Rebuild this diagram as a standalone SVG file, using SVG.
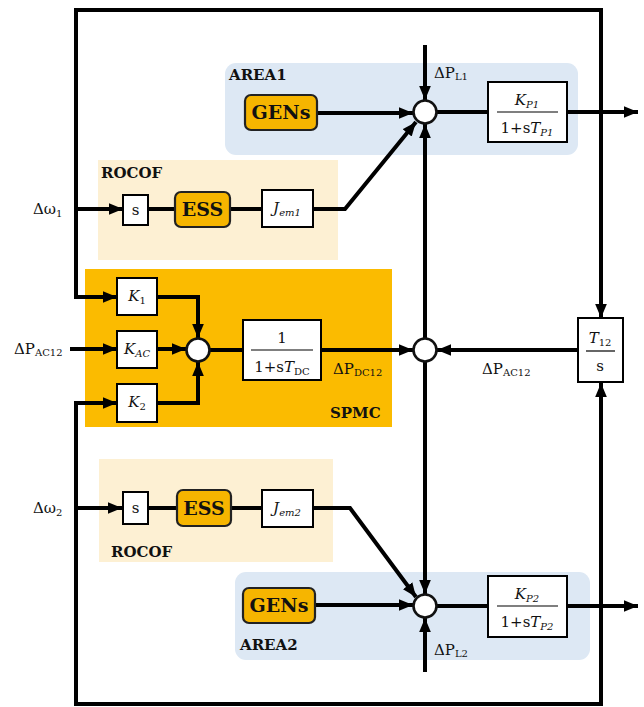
<svg xmlns="http://www.w3.org/2000/svg" width="644" height="707" viewBox="0 0 644 707">
<defs>
<marker id="ah" viewBox="0 0 12 10" refX="12" refY="5" markerWidth="14" markerHeight="12" markerUnits="userSpaceOnUse" orient="auto"><path d="M0,0 L12,5 L0,10 z" fill="#000"/></marker>
</defs>
<style>
.w{stroke:#000;stroke-width:4;fill:none}
.a{marker-end:url(#ah)}
.box{fill:#fff;stroke:#000;stroke-width:2}
.ob{fill:#f6b500;stroke:#222;stroke-width:2.2}
.sum{fill:#fff;stroke:#111;stroke-width:2.6}
.lb{font-weight:bold;font-size:15px}
.big{font-weight:bold;font-size:19px}
.it{font-style:italic}
.sub{font-size:10px}
.t{font-size:15px}
</style>
<rect x="0" y="0" width="644" height="707" fill="#fff"/>
<g font-family="'DejaVu Serif', 'Liberation Serif', serif" fill="#111">
<g id="panels">
<rect id="area1-panel" x="225" y="63" width="353" height="92" rx="11" fill="#dde8f4"/>
<rect id="rocof1-panel" x="98" y="160" width="240" height="100" fill="#fdf0d3"/>
<rect id="spmc-panel" x="85" y="269" width="307" height="158" fill="#fbbb00"/>
<rect id="rocof2-panel" x="99" y="459" width="234" height="103" fill="#fdf0d3"/>
<rect id="area2-panel" x="235" y="572" width="355" height="88" rx="11" fill="#dde8f4"/>
<text x="229" y="80" class="lb">AREA1</text>
<text x="101" y="178" class="lb">ROCOF</text>
<text x="330" y="418" class="lb">SPMC</text>
<text x="111" y="557" class="lb">ROCOF</text>
<text x="240" y="650" class="lb">AREA2</text>
</g>
<g id="connectors">
<path class="w" d="M76,299 V10 H601 V317"/>
<path class="w a" d="M601,316 V318"/>
<path class="w a" d="M74,297 H117"/>
<path class="w a" d="M76,209 H123"/>
<path class="w" d="M148,209 H175 M230,209 H262"/>
<path class="w a" d="M313,209 H345 L416,122"/>
<path class="w a" d="M317,113 H413"/>
<path class="w a" d="M425,45 V100"/>
<path class="w" d="M437,112 H488"/>
<path class="w a" d="M567,112 H638"/>
<path class="w" d="M76,401 V704 H601 V384"/>
<path class="w a" d="M601,386 V383"/>
<path class="w a" d="M74,403 H117"/>
<path class="w a" d="M76,508 H122"/>
<path class="w a" d="M70,349 H117"/>
<path class="w a" d="M157,297 H198 V338"/>
<path class="w a" d="M157,349 H186"/>
<path class="w a" d="M157,403 H198 V362"/>
<path class="w" d="M210,350 H243"/>
<path class="w a" d="M321,350 H413"/>
<path class="w a" d="M577,350 H437"/>
<path class="w a" d="M425,338 V124"/>
<path class="w a" d="M425,362 V594"/>
<path class="w" d="M148,508 H177 M231,508 H262"/>
<path class="w a" d="M313,508 H350 L416,597"/>
<path class="w a" d="M315,605 H413"/>
<path class="w a" d="M425,672 V618"/>
<path class="w" d="M437,606 H488"/>
<path class="w a" d="M567,606 H638"/>
</g>
<g id="labels">
<text x="33" y="214" class="t">Δω<tspan class="sub" dy="3">1</tspan></text>
<text x="33" y="513" class="t">Δω<tspan class="sub" dy="3">2</tspan></text>
<text x="14" y="354" class="t">ΔP<tspan class="sub" dy="2">AC12</tspan></text>
<text x="434" y="78" class="t">ΔP<tspan class="sub" dy="2">L1</tspan></text>
<text x="434" y="655" class="t">ΔP<tspan class="sub" dy="2">L2</tspan></text>
<text x="333" y="374" class="t">ΔP<tspan class="sub" dy="2">DC12</tspan></text>
<text x="482" y="374" class="t">ΔP<tspan class="sub" dy="2">AC12</tspan></text>
</g>
<g id="gens1"><rect class="ob" x="245" y="95" width="72" height="35" rx="6"/><text x="281" y="119" class="big" text-anchor="middle">GENs</text></g>
<g id="sum1"><circle class="sum" cx="425" cy="112" r="11.5"/></g>
<g id="kp1"><rect class="box" x="488" y="82" width="79" height="60"/>
<text x="527" y="105" class="t" text-anchor="middle"><tspan class="it">K</tspan><tspan class="sub it" dy="3">P1</tspan></text>
<line x1="497" y1="112" x2="558" y2="112" stroke="#000" stroke-width="1.2"/>
<text x="527" y="133" class="t" text-anchor="middle">1+s<tspan class="it">T</tspan><tspan class="sub it" dy="3">P1</tspan></text></g>
<g id="s1"><rect class="box" x="123" y="195" width="25" height="30"/><text x="135.5" y="215" class="t" text-anchor="middle">s</text></g>
<g id="ess1"><rect class="ob" x="175" y="192" width="55" height="35" rx="6"/><text x="202.5" y="216" class="big" text-anchor="middle">ESS</text></g>
<g id="jem1"><rect class="box" x="262" y="190" width="51" height="37"/><text x="287" y="213" class="t" text-anchor="middle"><tspan class="it">J</tspan><tspan class="sub it" dy="3">em1</tspan></text></g>
<g id="k1"><rect class="box" x="117" y="278" width="40" height="37"/><text x="137" y="301" class="t" text-anchor="middle"><tspan class="it">K</tspan><tspan class="sub" dy="3">1</tspan></text></g>
<g id="kac"><rect class="box" x="117" y="331" width="40" height="37"/><text x="137" y="354" class="t" text-anchor="middle"><tspan class="it">K</tspan><tspan class="sub it" dy="3">AC</tspan></text></g>
<g id="k2"><rect class="box" x="117" y="384" width="40" height="38"/><text x="137" y="407" class="t" text-anchor="middle"><tspan class="it">K</tspan><tspan class="sub" dy="3">2</tspan></text></g>
<g id="sum-spmc"><circle class="sum" cx="198" cy="350" r="11.5"/></g>
<g id="tdc"><rect class="box" x="243" y="320" width="78" height="60"/>
<text x="282" y="343" class="t" text-anchor="middle">1</text>
<line x1="251" y1="350" x2="313" y2="350" stroke="#000" stroke-width="1.2"/>
<text x="282" y="372" class="t" text-anchor="middle">1+s<tspan class="it">T</tspan><tspan class="sub" dy="3">DC</tspan></text></g>
<g id="sum-mid"><circle class="sum" cx="425" cy="350" r="11.5"/></g>
<g id="t12"><rect class="box" x="578" y="318" width="45" height="64"/>
<text x="600" y="343" class="t" text-anchor="middle"><tspan class="it">T</tspan><tspan class="sub" dy="3">12</tspan></text>
<line x1="586" y1="351" x2="615" y2="351" stroke="#000" stroke-width="1.2"/>
<text x="600" y="371" class="t" text-anchor="middle">s</text></g>
<g id="s2"><rect class="box" x="123" y="492" width="25" height="32"/><text x="135.5" y="513" class="t" text-anchor="middle">s</text></g>
<g id="ess2"><rect class="ob" x="177" y="490" width="54" height="36" rx="6"/><text x="204" y="515" class="big" text-anchor="middle">ESS</text></g>
<g id="jem2"><rect class="box" x="262" y="490" width="51" height="37"/><text x="287" y="513" class="t" text-anchor="middle"><tspan class="it">J</tspan><tspan class="sub it" dy="3">em2</tspan></text></g>
<g id="gens2"><rect class="ob" x="243" y="588" width="72" height="35" rx="6"/><text x="279" y="612" class="big" text-anchor="middle">GENs</text></g>
<g id="sum2"><circle class="sum" cx="425" cy="606" r="11.5"/></g>
<g id="kp2"><rect class="box" x="488" y="576" width="79" height="61"/>
<text x="527" y="599" class="t" text-anchor="middle"><tspan class="it">K</tspan><tspan class="sub it" dy="3">P2</tspan></text>
<line x1="497" y1="606" x2="558" y2="606" stroke="#000" stroke-width="1.2"/>
<text x="527" y="627" class="t" text-anchor="middle">1+s<tspan class="it">T</tspan><tspan class="sub it" dy="3">P2</tspan></text></g>
</g>
</svg>
